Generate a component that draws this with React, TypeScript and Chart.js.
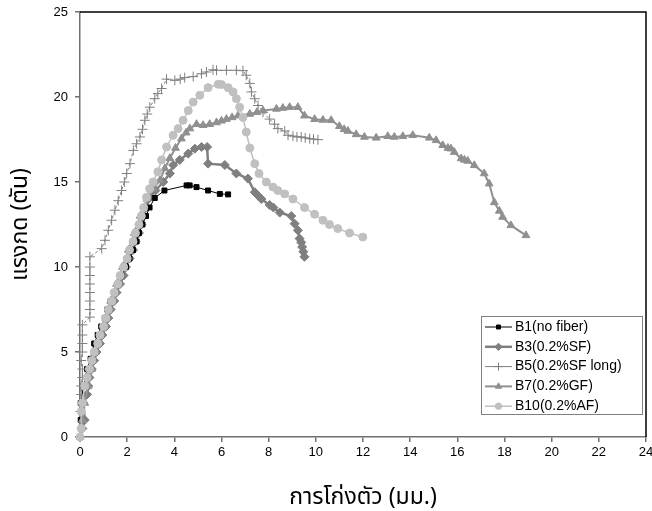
import React, { useEffect, useRef } from "react";
import { Chart, registerables } from "chart.js";
import { drawPoint } from "chart.js/helpers";

Chart.register(...registerables);

type P = [number, number];

const xTickLabels = ["0", "2", "4", "6", "8", "10", "12", "14", "16", "18", "20", "22", "24"];
const yTickLabels = ["0", "5", "10", "15", "20", "25"];
const seriesNames = ["B1(no fiber)", "B3(0.2%SF)", "B5(0.2%SF long)", "B7(0.2%GF)", "B10(0.2%AF)"];

const b1: P[] = [
  [0, 0], [0.03, 1], [0.03, 2], [0.15, 3], [0.3, 4], [0.45, 4.6], [0.6, 5.5], [0.75, 6], [0.9, 6.5],
  [1.05, 7], [1.15, 7.5], [1.3, 8], [1.45, 8.5], [1.6, 9], [1.75, 9.5], [1.95, 10], [2.1, 10.5],
  [2.25, 11], [2.4, 11.5], [2.5, 12], [2.65, 12.5], [2.8, 13], [2.95, 13.5], [3.17, 14.06], [3.58, 14.5],
  [4.52, 14.8], [4.65, 14.8], [4.94, 14.7], [5.43, 14.5], [5.93, 14.3], [6.28, 14.27],
];

const b3: P[] = [
  [0, 0], [0.1, 0.5], [0.2, 1.0], [0.15, 2], [0.3, 2.5], [0.35, 3], [0.4, 3.5], [0.5, 4], [0.6, 4.5],
  [0.7, 5], [0.85, 5.5], [0.95, 6], [1.1, 6.5], [1.2, 7], [1.3, 7.5], [1.45, 8], [1.55, 8.5], [1.7, 9],
  [1.85, 9.5], [1.95, 10], [2.1, 10.5], [2.25, 11], [2.35, 11.5], [2.5, 12], [2.6, 12.5], [2.7, 13],
  [2.82, 13.5], [2.9, 14], [3.2, 14.5], [3.53, 15.0], [3.81, 15.5], [3.95, 16], [4.23, 16.3], [4.59, 16.67],
  [4.87, 16.96], [5.15, 17.06], [5.39, 17.06], [5.43, 16.08], [6.14, 16.0], [6.63, 15.5], [7.12, 15.2],
  [7.41, 14.4], [7.55, 14.2], [7.69, 14.0], [8.04, 13.65], [8.2, 13.5], [8.47, 13.2], [8.96, 13.0],
  [9.1, 12.55], [9.24, 12.16], [9.31, 11.67], [9.38, 11.45], [9.42, 11.18], [9.47, 10.9], [9.52, 10.6],
];

const b5: P[] = [
  [0, 0], [0.02, 1.5], [0.05, 2.5], [0.05, 3], [0.1, 3.5], [0.1, 4], [0.05, 4.5], [0.1, 5], [0.1, 5.5],
  [0.1, 6], [0.1, 6.6], [0.42, 7.05], [0.42, 7.5], [0.42, 8], [0.42, 8.5], [0.42, 9], [0.42, 9.5],
  [0.42, 10], [0.42, 10.6], [0.92, 11.08], [1.06, 11.57], [1.2, 12.16], [1.34, 12.75], [1.48, 13.34],
  [1.62, 13.9], [1.76, 14.5], [1.88, 15.0], [1.98, 15.5], [2.12, 16.08], [2.26, 16.86], [2.4, 17.25],
  [2.54, 17.65], [2.65, 18.1], [2.75, 18.63], [2.85, 19.0], [2.96, 19.4], [3.17, 19.9], [3.3, 20.2],
  [3.46, 20.5], [3.67, 21.05], [4.02, 20.98], [4.25, 21.05], [4.44, 21.14], [4.8, 21.2], [5.15, 21.37],
  [5.36, 21.47], [5.64, 21.6], [5.79, 21.57], [6.21, 21.57], [6.63, 21.57], [6.91, 21.55], [7.05, 21.28],
  [7.2, 20.8], [7.27, 20.3], [7.41, 19.9], [7.55, 19.5], [7.76, 19.1], [8.04, 18.7], [8.25, 18.4],
  [8.39, 18.14], [8.68, 18.0], [8.82, 17.75], [9.03, 17.7], [9.2, 17.65], [9.38, 17.65], [9.55, 17.6],
  [9.74, 17.55], [9.9, 17.52], [10.09, 17.49],
];

const b7: P[] = [
  [0, 0], [0.1, 1], [0.2, 2], [0.35, 3], [0.5, 4], [0.65, 5], [0.85, 6], [1.1, 7], [1.3, 8], [1.55, 9],
  [1.8, 10], [2.05, 11], [2.3, 12], [2.55, 13], [2.85, 14], [3.1, 14.6], [3.39, 15.1], [3.6, 15.8],
  [3.81, 16.4], [4.05, 17.0], [4.3, 17.55], [4.5, 17.9], [4.66, 18.14], [4.94, 18.4], [5.22, 18.34],
  [5.5, 18.4], [5.79, 18.5], [6.0, 18.6], [6.21, 18.7], [6.45, 18.8], [6.7, 18.9], [7.2, 19.0],
  [7.5, 19.1], [7.76, 19.2], [8.33, 19.3], [8.6, 19.35], [8.89, 19.4], [9.24, 19.4], [9.52, 18.9],
  [9.95, 18.69], [10.3, 18.65], [10.65, 18.63], [11.0, 18.28], [11.2, 18.1], [11.36, 18.0], [11.71, 17.8],
  [12.06, 17.65], [12.56, 17.6], [13.05, 17.69], [13.33, 17.65], [13.69, 17.69], [14.11, 17.75],
  [14.81, 17.6], [15.1, 17.45], [15.38, 17.16], [15.6, 17.0], [15.73, 16.96], [15.87, 16.76],
  [16.16, 16.38], [16.3, 16.3], [16.44, 16.24], [16.72, 15.98], [17.14, 15.5], [17.35, 14.9],
  [17.57, 13.8], [17.78, 13.3], [17.92, 12.94], [18.27, 12.45], [18.91, 11.86],
];

const b10: P[] = [
  [0, 0], [0.05, 0.5], [0.05, 1.5], [0.1, 2], [0.2, 3], [0.3, 3.5], [0.4, 4], [0.5, 4.5], [0.6, 5],
  [0.75, 5.5], [0.85, 6], [1.0, 6.5], [1.1, 7], [1.2, 7.5], [1.35, 8], [1.45, 8.5], [1.6, 9], [1.7, 9.5],
  [1.85, 10], [2.0, 10.5], [2.1, 11], [2.25, 11.5], [2.35, 12], [2.5, 12.5], [2.6, 13], [2.7, 13.5],
  [2.82, 14.1], [2.95, 14.6], [3.1, 15.0], [3.3, 15.6], [3.46, 16.3], [3.67, 17.06], [3.95, 17.75],
  [4.16, 18.14], [4.37, 18.63], [4.59, 19.2], [4.8, 19.7], [5.08, 20.1], [5.43, 20.55], [5.86, 20.75],
  [6.0, 20.73], [6.28, 20.55], [6.49, 20.3], [6.63, 19.9], [6.77, 19.4], [6.91, 18.8], [7.05, 17.94],
  [7.2, 17.0], [7.41, 16.08], [7.59, 15.5], [7.9, 15.0], [8.18, 14.7], [8.39, 14.5], [8.68, 14.3],
  [9.03, 14.0], [9.52, 13.5], [9.95, 13.1], [10.3, 12.75], [10.58, 12.5], [10.93, 12.26], [11.43, 12.0],
  [11.99, 11.76],
];

const thaiFont = "'Noto Sans Thai', 'Noto Sans', 'Liberation Sans', Arial, sans-serif";
const numFont = "'Liberation Sans', Arial, sans-serif";

const toPts = (a: P[]) => a.map(([x, y]) => ({ x, y }));

const framePlugin = {
  id: "frame",
  afterDraw(chart: any) {
    const { ctx, chartArea } = chart;
    ctx.save();
    ctx.strokeStyle = "#000";
    ctx.lineWidth = 1.5;
    ctx.beginPath();
    ctx.moveTo(chartArea.left, chartArea.top);
    ctx.lineTo(chartArea.right, chartArea.top);
    ctx.lineTo(chartArea.right, chartArea.bottom);
    ctx.stroke();
    ctx.restore();
  },
};

const legendPlugin = {
  id: "boxLegend",
  afterDraw(chart: any) {
    const { ctx } = chart;
    const bx = 481, by = 316, bw = 161, bh = 98;
    ctx.save();
    ctx.fillStyle = "#fff";
    ctx.fillRect(bx, by, bw, bh);
    ctx.strokeStyle = "#808080";
    ctx.lineWidth = 1;
    ctx.strokeRect(bx + 0.5, by + 0.5, bw, bh);
    chart.data.datasets.forEach((ds: any, i: number) => {
      const cy = by + 11 + i * 19.8;
      ctx.save();
      ctx.strokeStyle = ds.borderColor;
      ctx.lineWidth = ds.borderWidth;
      ctx.beginPath();
      ctx.moveTo(485, cy);
      ctx.lineTo(512, cy);
      ctx.stroke();
      ctx.restore();
      ctx.save();
      ctx.fillStyle = ds.pointBackgroundColor;
      ctx.strokeStyle = ds.pointBorderColor;
      ctx.lineWidth = 1;
      drawPoint(ctx, { pointStyle: ds.pointStyle, radius: ds.pointRadius * 0.8, borderWidth: 1, rotation: 0 }, 498.5, cy);
      ctx.restore();
      ctx.fillStyle = "#000";
      ctx.font = "14px " + numFont;
      ctx.textBaseline = "middle";
      ctx.textAlign = "left";
      ctx.fillText(ds.label, 515, cy);
    });
    ctx.restore();
  },
};

export default function App() {
  const ref = useRef<HTMLCanvasElement>(null);
  useEffect(() => {
    if (!ref.current) return;
    const mk = (label: string, data: P[], color: string, width: number, style: string, radius: number, order: number, dash?: number[]) => ({
      label,
      data: toPts(data),
      showLine: true,
      borderColor: color,
      backgroundColor: color,
      pointBackgroundColor: color,
      pointBorderColor: color,
      borderWidth: width,
      borderDash: dash || [],
      pointStyle: style,
      pointRadius: radius,
      pointBorderWidth: 1,
      pointHoverRadius: radius,
      tension: 0,
      clip: false as any,
      order,
    });
    const chart = new Chart(ref.current, {
      type: "scatter",
      data: {
        datasets: [
          mk(seriesNames[0], b1, "#000000", 1, "rect", 3.5, 3),
          mk(seriesNames[1], b3, "#7f7f7f", 2.5, "rectRot", 4.5, 4),
          mk(seriesNames[2], b5, "#808080", 1, "cross", 5, 2, [3, 2]),
          mk(seriesNames[3], b7, "#909090", 2, "triangle", 4.5, 1),
          mk(seriesNames[4], b10, "#c0c0c0", 1.5, "circle", 4, 0),
        ] as any,
      },
      options: {
        animation: false,
        responsive: false,
        devicePixelRatio: 1,
        layout: { padding: { top: 12, right: 5, left: 0, bottom: 0 } },
        plugins: { legend: { display: false }, tooltip: { enabled: false } },
        scales: {
          x: {
            type: "linear",
            min: 0,
            max: 24,
            afterBuildTicks: (axis: any) => {
              axis.ticks = xTickLabels.map((t) => ({ value: Number(t) }));
            },
            afterFit: (axis: any) => {
              axis.height = 74;
              axis.paddingLeft = 0;
              axis.paddingRight = 0;
            },
            ticks: {
              color: "#000",
              font: { family: numFont, size: 13 },
              padding: 3,
              maxRotation: 0,
              autoSkip: false,
            },
            grid: { display: true, drawOnChartArea: false, drawTicks: true, tickLength: 5, color: "#707070", lineWidth: 1.5 },
            border: { display: true, color: "#707070", width: 1.5 },
            title: {
              display: true,
              text: "การโก่งตัว (มม.)",
              color: "#000",
              font: { family: thaiFont, size: 23, lineHeight: 1 },
              padding: { top: 0, bottom: 0 },
            },
          },
          y: {
            type: "linear",
            min: 0,
            max: 25,
            afterBuildTicks: (axis: any) => {
              axis.ticks = yTickLabels.map((t) => ({ value: Number(t) }));
            },
            afterFit: (axis: any) => {
              axis.width = 80;
              axis.paddingTop = 0;
              axis.paddingBottom = 0;
            },
            ticks: {
              color: "#000",
              font: { family: numFont, size: 13 },
              padding: 7,
            },
            grid: { display: true, drawOnChartArea: false, drawTicks: true, tickLength: 5, color: "#707070", lineWidth: 1.5 },
            border: { display: true, color: "#707070", width: 1.5 },
            title: {
              display: true,
              text: "แรงกด (ตัน)",
              color: "#000",
              font: { family: thaiFont, size: 23, lineHeight: 1 },
              padding: { top: 11, bottom: 0 },
            },
          },
        },
      },
      plugins: [framePlugin, legendPlugin],
    });
    return () => chart.destroy();
  }, []);
  return (
    <div style={{ position: "absolute", left: 0, top: 0, width: 652, height: 511 }}>
      <canvas ref={ref} width={652} height={511} style={{ display: "block" }} />
    </div>
  );
}
